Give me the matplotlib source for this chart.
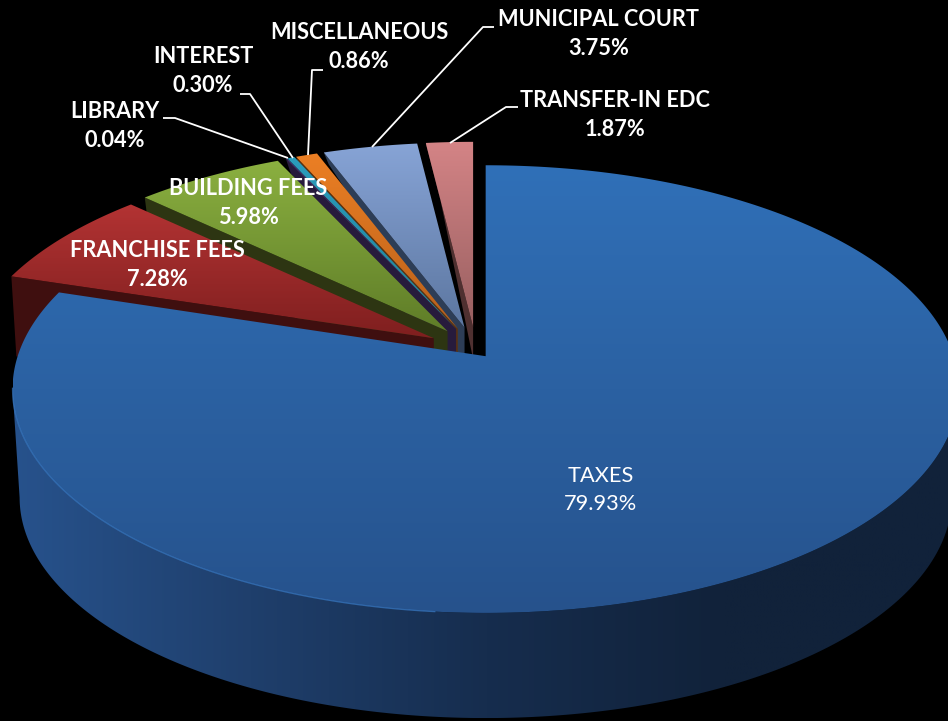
import numpy as np
import matplotlib
matplotlib.use('Agg')
import matplotlib.pyplot as plt
from matplotlib.patches import Polygon

# valori
names = ['TAXES', 'FRANCHISE FEES', 'BUILDING FEES', 'LIBRARY', 'INTEREST',
         'MISCELLANEOUS', 'MUNICIPAL COURT', 'TRANSFER-IN EDC']
shares = [79.93, 7.28, 5.98, 0.04, 0.30, 0.86, 3.75, 1.87]

explode = [0.035, 0.105, 0.105, 0.105, 0.105, 0.105, 0.105, 0.105]
top_light = ['#3070b8', '#b33333', '#8bb040', '#4a3a7c', '#2b9dbd', '#ec7f24', '#87a4d6', '#d48486']
top_dark = ['#26528c', '#7f1f1f', '#5f7d28', '#3a2c60', '#1f7f99', '#b8601a', '#5c76a0', '#985f60']
cut_color = ['#1c3a63', '#3f0f0f', '#2d3512', '#271b3c', '#271b3c', '#5a3210', '#2d3d56', '#4f3030']
cut_apex = [0, 95, 70, 45, 45, 45, 40, 32]
cut_rim = [0, 80, 40, 15, 15, 15, 12, 10]
side_colors = ['#27528c', '#1f3f6c', '#162d4e', '#11223a', '#11223a']

CENTER = (476.0, 350.0)
RX, RY, K = 468.0, 219.0, 0.147
DEPTH = 109.0
BOTTOM_SCALE = 0.985


def project(theta, apex, sx=1.0, sy=1.0):
    """Punto del bordo (angolo standard, radianti) proiettato sul disco in prospettiva."""
    x, y = np.cos(theta), np.sin(theta)
    w = 1 + K * y
    return apex[0] + sx * RX * x / w, apex[1] - sy * RY * y / w


def fill_gradient(ax, pts, colors, z, horizontal=False):
    """Riempie il poligono con un gradiente tra i colori dati."""
    pts = np.asarray(pts)
    patch = Polygon(pts, closed=True, facecolor='none', edgecolor='none', transform=ax.transData)
    ax.add_patch(patch)
    stops = np.array([matplotlib.colors.to_rgb(c) for c in colors])
    pos = np.linspace(0, 1, len(colors))
    t = np.linspace(0, 1, 256)
    ramp = np.column_stack([np.interp(t, pos, stops[:, c]) for c in range(3)])
    grad = ramp[None, :, :] if horizontal else ramp[:, None, :]
    im = ax.imshow(grad, extent=[pts[:, 0].min(), pts[:, 0].max(), pts[:, 1].max(), pts[:, 1].min()],
                   origin='upper', aspect='auto', zorder=z, interpolation='bilinear')
    im.set_clip_path(patch)
    return im


fig = plt.figure(figsize=(9.48, 7.21), dpi=100, facecolor='black')
ax = fig.add_axes([0, 0, 1, 1])
ax.set_facecolor('black')

# angoli: partenza a ore 12, senso orario
frac = np.array(shares) / np.sum(shares)
edges = np.pi / 2 - 2 * np.pi * np.concatenate([[0], np.cumsum(frac)])

z = 2
# dal fondo (ultima fetta) verso il davanti
for i in range(len(shares) - 1, -1, -1):
    t0, t1 = edges[i], edges[i + 1]  # t1 < t0, senso orario
    mid = (t0 + t1) / 2
    apex = (CENTER[0] + RX * explode[i] * np.cos(mid), CENTER[1] - RY * explode[i] * np.sin(mid))
    th = np.linspace(t0, t1, 400)
    if i == 0:
        rx, ry = project(th, apex)
        # fianco esterno della fetta grande, tra i due estremi della sagoma
        lim = np.arcsin(K)
        ts = np.linspace(-lim, -np.pi + lim, 400)
        ax0, ay0 = project(ts, apex)
        bx, by = project(ts, apex, BOTTOM_SCALE, BOTTOM_SCALE)
        by = by + DEPTH
        side = np.column_stack([np.r_[ax0, bx[::-1]], np.r_[ay0, by[::-1]]])
        fill_gradient(ax, side, side_colors, z, horizontal=True)
        z += 1
    else:
        rx, ry = project(th, apex, 0.99, 0.97)
        # faccia di taglio visibile, sotto il bordo in basso a sinistra
        cut = [(rx[0], ry[0]), apex, (apex[0], apex[1] + cut_apex[i]),
               (rx[0] + 5, ry[0] + cut_rim[i])]
        ax.add_patch(Polygon(cut, closed=True, facecolor=cut_color[i], edgecolor='none', zorder=z))
        z += 1

    face = np.column_stack([np.r_[apex[0], rx], np.r_[apex[1], ry]])
    fill_gradient(ax, face, [top_light[i], top_dark[i]], z)
    z += 1

    if i == 0:
        front = (th < -np.radians(95)) & (th > -np.radians(172))
        ax.plot(rx[front], ry[front], color='#3a7cc8', lw=0.9, alpha=0.7, zorder=z)
        z += 1

# linee guida delle etichette
leaders = {
    'LIBRARY': ([163, 175, 288], [118, 118, 158]),
    'INTEREST': ([240, 250, 293], [94, 94, 158]),
    'MISCELLANEOUS': ([323, 312, 308], [70, 70, 155]),
    'MUNICIPAL COURT': ([494, 483, 372], [27, 27, 147]),
    'TRANSFER-IN EDC': ([518, 506, 450], [107, 107, 143]),
}
for xs, ys in leaders.values():
    ax.plot(xs, ys, color='white', lw=1.3, zorder=z, solid_capstyle='butt')
z += 1

label_pos = {
    'TAXES': (601, 490),
    'FRANCHISE FEES': (157, 265),
    'BUILDING FEES': (248, 203),
    'LIBRARY': (115, 126),
    'INTEREST': (203, 71),
    'MISCELLANEOUS': (359, 47),
    'MUNICIPAL COURT': (599, 34),
    'TRANSFER-IN EDC': (615, 115),
}
for name, share in zip(names, shares):
    x, y = label_pos[name]
    ax.text(x, y, f'{name}\n{share:.2f}%', color='white', ha='center', va='center',
            fontsize=15.7, family='Lato', fontweight='normal' if name == 'TAXES' else 'bold',
            linespacing=1.52, zorder=z)

ax.set_xlim(0, 948)
ax.set_ylim(721, 0)
ax.axis('off')
fig.savefig('out.png', dpi=100, facecolor='black')
plt.close(fig)
